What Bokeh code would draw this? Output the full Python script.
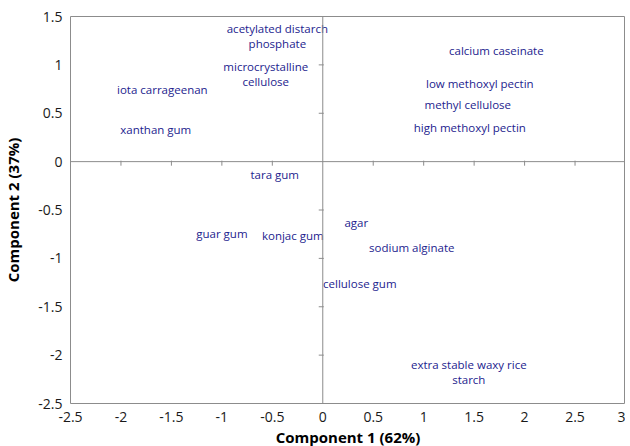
from bokeh.plotting import figure
from bokeh.models import ColumnDataSource, Span, FixedTicker, Range1d
from bokeh.core.properties import value
from bokeh.embed import file_html
from bokeh.resources import INLINE

names = ["acetylated distarch\nphosphate", "microcrystalline\ncellulose", "iota carrageenan",
         "xanthan gum", "tara gum", "calcium caseinate", "low methoxyl pectin",
         "methyl cellulose", "high methoxyl pectin", "guar gum", "konjac gum", "agar",
         "sodium alginate", "cellulose gum", "extra stable waxy rice\nstarch"]
pc1 = [-0.45, -0.565, -1.59, -1.655, -0.476, 1.72, 1.556, 1.437, 1.457, -1.0, -0.297,
       0.332, 0.882, 0.367, 1.447]
pc2 = [1.30, 0.91, 0.744, 0.33, -0.134, 1.147, 0.806, 0.589, 0.351, -0.744, -0.765,
       -0.63, -0.889, -1.26, -2.17]

x_ticks = [-2.5, -2, -1.5, -1, -0.5, 0, 0.5, 1, 1.5, 2, 2.5, 3]
x_tick_labels = ["-2.5", "-2", "-1.5", "-1", "-0.5", "0", "0.5", "1", "1.5", "2", "2.5", "3"]
y_ticks = [-2.5, -2, -1.5, -1, -0.5, 0, 0.5, 1, 1.5]
y_tick_labels = ["-2.5", "-2", "-1.5", "-1", "-0.5", "0", "0.5", "1", "1.5"]

FONT = "Open Sans"
AXIS_GRAY = "#8c8c8c"

p = figure(frame_width=555, frame_height=387, output_backend="svg", toolbar_location=None,
           x_range=Range1d(x_ticks[0], x_ticks[-1]), y_range=Range1d(y_ticks[0], y_ticks[-1]),
           min_border_left=67, min_border_right=0, min_border_top=16, min_border_bottom=0)
p.background_fill_color = "white"
p.border_fill_color = "white"
p.outline_line_color = AXIS_GRAY
p.outline_line_width = 1
p.grid.visible = False

for ax, ticks, labels in ((p.xaxis[0], x_ticks, x_tick_labels), (p.yaxis[0], y_ticks, y_tick_labels)):
    ax.ticker = FixedTicker(ticks=ticks)
    ax.major_label_overrides = {t: l for t, l in zip(ticks, labels)}
    ax.axis_line_color = None
    ax.major_tick_line_color = None
    ax.minor_tick_line_color = None
    ax.major_tick_in = 0
    ax.major_tick_out = 0
    ax.major_label_text_font = FONT
    ax.major_label_text_font_size = "14px"
    ax.major_label_text_color = "#1a1a1a"
    ax.axis_label_text_font = FONT
    ax.axis_label_text_font_size = "15px"
    ax.axis_label_text_font_style = "bold"
    ax.axis_label_text_color = "#000000"

p.xaxis.axis_label = "Component 1 (62%)"
p.yaxis.axis_label = "Component 2 (37%)"
p.xaxis.major_label_standoff = 8
p.xaxis.axis_label_standoff = 2
p.yaxis.major_label_standoff = 8
p.yaxis.axis_label_standoff = 12

# zero lines (inner axes)
p.add_layout(Span(location=0, dimension="width", line_color=AXIS_GRAY, line_width=1))
p.add_layout(Span(location=0, dimension="height", line_color=AXIS_GRAY, line_width=1))

# inner tick marks
xt = [t for t in x_ticks if t not in (0, x_ticks[0])]
yt = [t for t in y_ticks if t not in (0, y_ticks[0], y_ticks[-1])]
tlx = 0.042
tly = 0.04
p.segment(x0=xt, y0=[0.01] * len(xt), x1=xt, y1=[-tlx] * len(xt), line_color=AXIS_GRAY, line_width=1)
p.segment(x0=[0.01] * len(yt), y0=yt, x1=[-tly] * len(yt), y1=yt, line_color=AXIS_GRAY, line_width=1)

src = ColumnDataSource(dict(x=pc1, y=pc2, name=names))
p.text(x="x", y="y", text="name", source=src, text_font=value(FONT), text_font_size="11.5px",
       text_color="#23238e", text_align="center", text_baseline="middle", text_line_height=1.0)

open("out.html", "w").write(file_html(p, INLINE))
